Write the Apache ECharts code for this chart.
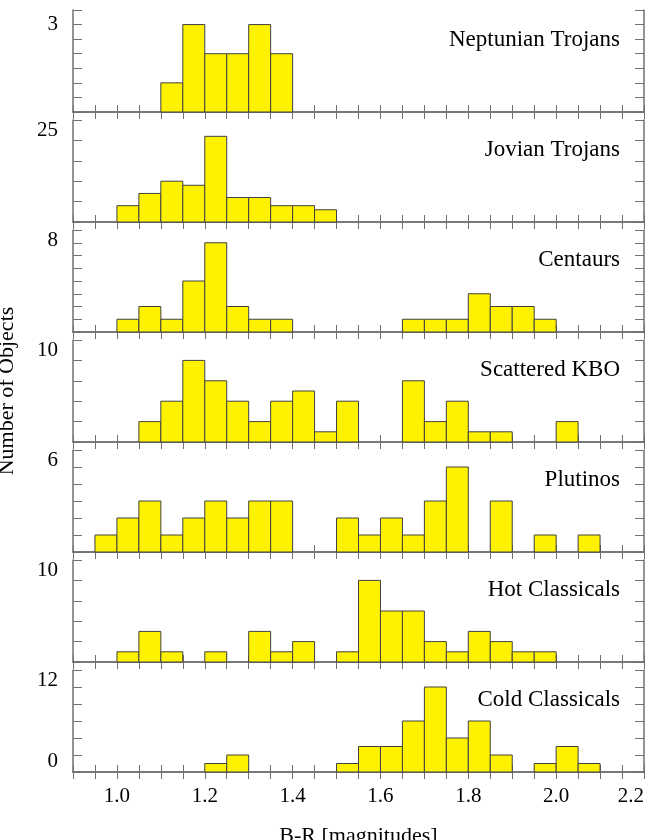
<!DOCTYPE html>
<html>
<head>
    <meta charset="utf-8">
    <script src="https://cdn.jsdelivr.net/npm/echarts@6/dist/echarts.min.js"></script>
    <style type="text/css">
        html, body { width: 100%; height: 100%; margin: 0; background: #fff; }
        #chart { width: 649px; height: 840px; }
    </style>
</head>
<body>
<div id="chart"></div>
<script type="text/javascript">
    // bin left edges, each bin is 0.05 mag wide
    var binStart = [0.95, 1.00, 1.05, 1.10, 1.15, 1.20, 1.25, 1.30, 1.35, 1.40, 1.45, 1.50,
                    1.55, 1.60, 1.65, 1.70, 1.75, 1.80, 1.85, 1.90, 1.95, 2.00, 2.05];
    var binWidth = 0.05;

    var groupNames = ['Neptunian Trojans', 'Jovian Trojans', 'Centaurs', 'Scattered KBO',
                      'Plutinos', 'Hot Classicals', 'Cold Classicals'];

    var neptunian = [0, 0, 0, 1, 3, 2, 2, 3, 2, 0, 0, 0, 0, 0, 0, 0, 0, 0, 0, 0, 0, 0, 0];
    var jovian    = [0, 4, 7, 10, 9, 21, 6, 6, 4, 4, 3, 0, 0, 0, 0, 0, 0, 0, 0, 0, 0, 0, 0];
    var centaurs  = [0, 1, 2, 1, 4, 7, 2, 1, 1, 0, 0, 0, 0, 0, 1, 1, 1, 3, 2, 2, 1, 0, 0];
    var scattered = [0, 0, 2, 4, 8, 6, 4, 2, 4, 5, 1, 4, 0, 0, 6, 2, 4, 1, 1, 0, 0, 2, 0];
    var plutinos  = [1, 2, 3, 1, 2, 3, 2, 3, 3, 0, 0, 2, 1, 2, 1, 3, 5, 0, 3, 0, 1, 0, 1];
    var hotClass  = [0, 1, 3, 1, 0, 1, 0, 3, 1, 2, 0, 1, 8, 5, 5, 2, 1, 3, 2, 1, 1, 0, 0];
    var coldClass = [0, 0, 0, 0, 0, 1, 2, 0, 0, 0, 0, 1, 3, 3, 6, 10, 4, 6, 2, 0, 1, 3, 1];

    var counts = [neptunian, jovian, centaurs, scattered, plutinos, hotClass, coldClass];

    // y axis range / tick step per panel, and the one value that gets a label
    var yMax   = [3.5, 25, 8, 10, 6, 10, 12];
    var yStep  = [0.5, 5, 1, 2, 1, 2, 2];
    var yLabel = [3, 25, 8, 10, 6, 10, 12];

    var xMin = 0.9, xMax = 2.2, xStep = 0.05;

    var font = 'Liberation Serif';
    var frameColor = '#707070';

    function histItem(params, api) {
        var x0 = api.value(0), n = api.value(1);
        if (!n) return;
        var p0 = api.coord([x0, 0]);
        var p1 = api.coord([x0 + binWidth, n]);
        return {
            type: 'rect',
            shape: { x: p0[0], y: p1[1], width: p1[0] - p0[0], height: p0[1] - p1[1] },
            style: { fill: '#FFF200', stroke: '#404040', lineWidth: 1 }
        };
    }

    function xLabelFmt(v) {
        var c = Math.round(v * 100);
        return c % 20 === 0 ? (c / 100).toFixed(1) : '';
    }

    // f: feature switches, so a lighter variant can be tried if the layout fails
    function build(f) {
        var grids = [], xAxes = [], yAxes = [], series = [], titles = [];
        for (var i = 0; i < counts.length; i++) {
            (function (i) {
                var top = 10 + i * 110;
                var last = i === counts.length - 1;
                var g = { left: 73, right: 5, top: top, height: 102 };
                if (f.noBounds) { g.outerBoundsMode = 'none'; g.containLabel = false; }
                grids.push(g);

                var xb = {
                    type: 'value', gridIndex: i, position: 'bottom',
                    min: xMin, max: xMax, interval: xStep,
                    axisLine: { lineStyle: { color: frameColor, width: 1.5 } },
                    axisTick: { inside: true, length: 7, lineStyle: { color: frameColor } },
                    splitLine: { show: false },
                    axisLabel: {
                        show: last, margin: 14, color: '#000', fontFamily: font, fontSize: 21,
                        formatter: xLabelFmt
                    },
                    name: last ? 'B-R [magnitudes]' : '',
                    nameLocation: 'middle', nameGap: 53,
                    nameTextStyle: { color: '#000', fontFamily: font, fontSize: 22 }
                };
                if (f.alignMax) xb.axisLabel.alignMaxLabel = 'right';
                if (f.noMove) xb.nameMoveOverlap = false;
                xAxes.push(xb);
                xAxes.push({
                    type: 'value', gridIndex: i, position: 'top',
                    min: xMin, max: xMax, interval: xStep,
                    axisLine: { lineStyle: { color: frameColor, width: 1.5 } },
                    axisTick: { inside: true, length: 7, lineStyle: { color: frameColor } },
                    axisLabel: { show: false }, splitLine: { show: false }
                });

                var yl = {
                    type: 'value', gridIndex: i, position: 'left',
                    min: 0, max: yMax[i], interval: yStep[i],
                    axisLine: { show: true, lineStyle: { color: frameColor, width: 1.5 } },
                    axisTick: { show: true, inside: true, length: 9, lineStyle: { color: frameColor } },
                    splitLine: { show: false },
                    axisLabel: {
                        formatter: function (v) { return v === yLabel[i] ? String(v) : ''; }
                    }
                };
                if (f.yFont) {
                    yl.axisLabel.margin = 15;
                    yl.axisLabel.color = '#000';
                    yl.axisLabel.fontFamily = font;
                    yl.axisLabel.fontSize = 21;
                }
                if (f.yAlign) yl.axisLabel.verticalAlign = yLabel[i] === yMax[i] ? 'top' : 'middle';
                if (i === 3) {
                    yl.name = 'Number of Objects';
                    yl.nameLocation = 'middle';
                    yl.nameGap = 55;
                    yl.nameRotate = 90;
                    yl.nameTextStyle = { color: '#000', fontFamily: font, fontSize: f.yFont ? 22 : 21 };
                    if (f.noMove) yl.nameMoveOverlap = false;
                }
                yAxes.push(yl);
                yAxes.push({
                    type: 'value', gridIndex: i, position: 'right',
                    min: 0, max: yMax[i], interval: yStep[i],
                    axisLine: { show: true, lineStyle: { color: frameColor, width: 1.5 } },
                    axisTick: { show: true, inside: true, length: 9, lineStyle: { color: frameColor } },
                    axisLabel: { show: false }, splitLine: { show: false }
                });

                series.push({
                    type: 'custom', name: groupNames[i],
                    xAxisIndex: 2 * i, yAxisIndex: 2 * i,
                    renderItem: histItem,
                    encode: { x: 0, y: 1 },
                    data: binStart.map(function (b, j) { return [b, counts[i][j]]; })
                });

                titles.push({
                    text: groupNames[i], right: 24, top: top + 13,
                    textStyle: { color: '#000', fontFamily: font, fontSize: 23, fontWeight: 'normal' }
                });
            })(i);
        }

        // extra left axis on the last panel, only to carry the "0" label
        var zeroAxis = {
            type: 'value', gridIndex: counts.length - 1, position: 'left',
            min: 0, max: yMax[counts.length - 1], interval: yStep[counts.length - 1],
            axisLine: { show: false }, axisTick: { show: false }, splitLine: { show: false },
            axisLabel: { formatter: function (v) { return v === 0 ? '0' : ''; } }
        };
        if (f.yFont) {
            zeroAxis.axisLabel.margin = 15;
            zeroAxis.axisLabel.color = '#000';
            zeroAxis.axisLabel.fontFamily = font;
            zeroAxis.axisLabel.fontSize = 21;
        }
        if (f.yAlign) zeroAxis.axisLabel.verticalAlign = 'bottom';
        yAxes.push(zeroAxis);

        return {
            animation: false,
            backgroundColor: '#fff',
            title: titles,
            grid: grids,
            xAxis: xAxes,
            yAxis: yAxes,
            series: series
        };
    }

    var myChart = echarts.init(document.getElementById('chart'));
    var variants = [
        { noBounds: 1, noMove: 1, yFont: 1, yAlign: 1, alignMax: 1 },
        { noBounds: 1, yFont: 1, yAlign: 1, alignMax: 1 },
        { noBounds: 1, yFont: 1, yAlign: 1 },
        { noBounds: 1, yFont: 1 },
        { yAlign: 1 },
        {}
    ];
    for (var k = 0; k < variants.length; k++) {
        try {
            myChart.clear();
            myChart.setOption(build(variants[k]), true);
            console.log('variant ' + k + ' ok');
            break;
        } catch (e) {
            console.log('variant ' + k + ' failed: ' + e.message);
        }
    }
</script>
</body>
</html>
